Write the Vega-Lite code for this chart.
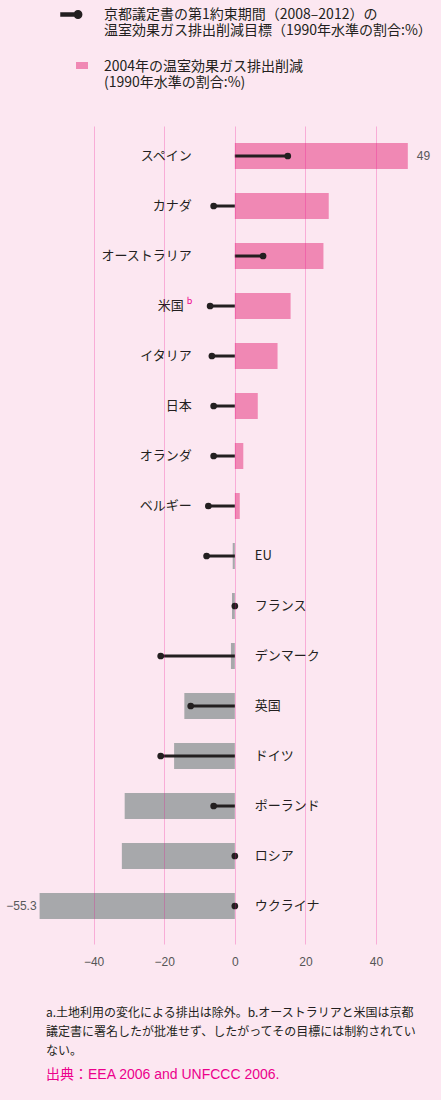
{
  "$schema": "https://vega.github.io/schema/vega-lite/v6.json",
  "width": 406,
  "height": 818,
  "autosize": {"type": "none"},
  "padding": {"left": 23, "top": 126, "right": 12, "bottom": 156},
  "background": "#fce7f1",
  "config": {"font": "Noto Sans CJK JP", "view": {"stroke": null}},
  "data": {
    "values": [
      {"country": "スペイン", "e2004": 49, "target": 15, "label": "49"},
      {"country": "カナダ", "e2004": 26.6, "target": -6},
      {"country": "オーストラリア", "e2004": 25.1, "target": 8},
      {"country": "米国", "e2004": 15.8, "target": -7, "note": "b"},
      {"country": "イタリア", "e2004": 12.1, "target": -6.5},
      {"country": "日本", "e2004": 6.5, "target": -6},
      {"country": "オランダ", "e2004": 2.4, "target": -6},
      {"country": "ベルギー", "e2004": 1.4, "target": -7.5},
      {"country": "EU", "e2004": -0.6, "target": -8},
      {"country": "フランス", "e2004": -0.8, "target": 0},
      {"country": "デンマーク", "e2004": -1.1, "target": -21},
      {"country": "英国", "e2004": -14.3, "target": -12.5},
      {"country": "ドイツ", "e2004": -17.2, "target": -21},
      {"country": "ポーランド", "e2004": -31.2, "target": -6},
      {"country": "ロシア", "e2004": -32, "target": 0},
      {"country": "ウクライナ", "e2004": -55.3, "target": 0, "label": "−55.3"}
    ]
  },
  "title": {
    "text": [
      "a.土地利用の変化による排出は除外。b.オーストラリアと米国は京都",
      "議定書に署名したが批准せず、したがってその目標には制約されてい",
      "ない。"
    ],
    "subtitle": "出典：EEA 2006 and UNFCCC 2006.",
    "orient": "bottom",
    "anchor": "start",
    "frame": "group",
    "dx": 23,
    "offset": 41,
    "fontSize": 12,
    "fontWeight": "normal",
    "color": "#231f20",
    "lineHeight": 19,
    "subtitleColor": "#ec008c",
    "subtitleFont": "Liberation Sans, Noto Sans CJK JP",
    "subtitleFontSize": 14,
    "subtitlePadding": 10
  },
  "encoding": {
    "y": {
      "field": "country",
      "type": "nominal",
      "sort": null,
      "axis": null,
      "scale": {"paddingInner": 0.48, "paddingOuter": 0.42, "align": 0.405}
    }
  },
  "layer": [
    {
      "mark": {"type": "bar"},
      "encoding": {
        "x": {
          "field": "e2004",
          "type": "quantitative",
          "scale": {"domain": [-60, 55], "nice": false},
          "axis": {
            "title": null,
            "values": [-40, -20, 0, 20, 40],
            "grid": true,
            "gridColor": "#ec008c",
            "gridOpacity": 0.25,
            "domain": false,
            "ticks": false,
            "labelPadding": 12,
            "labelFontSize": 12,
            "labelFont": "Liberation Sans",
            "labelColor": "#555555",
            "zindex": 1
          }
        },
        "color": {"condition": {"test": "datum.e2004 < 0", "value": "#a7a8ab"}, "value": "#f088b4"},
        "strokeDash": {
          "datum": "2004年",
          "type": "nominal",
          "scale": {"range": [[1, 0]]},
          "legend": {
            "orient": "none",
            "legendX": 37,
            "legendY": -74,
            "title": null,
            "padding": 0,
            "symbolType": "M0.111,-0.334H1V0.186H0.111Z",
            "symbolSize": 729,
            "labelExpr": "['2004年の温室効果ガス排出削減', '(1990年水準の割合:%)']",
            "labelFontSize": 14,
            "labelLimit": 400,
            "labelOffset": 15,
            "labelColor": "#231f20",
            "labelBaseline": "middle"
          }
        }
      }
    },
    {
      "mark": {"type": "square", "color": "#a7a8ab", "filled": true, "opacity": 0},
      "encoding": {
        "x": {"field": "e2004", "type": "quantitative"},
        "shape": {
          "datum": "2004年減",
          "type": "nominal",
          "scale": {"range": ["M-1,-0.334H-0.111V0.186H-1Z"]},
          "legend": {
            "orient": "none",
            "legendX": 37,
            "legendY": -74,
            "title": null,
            "padding": 0,
            "symbolSize": 729,
            "symbolOpacity": 1,
            "symbolStrokeWidth": 0,
            "symbolFillColor": "#a7a8ab",
            "labelExpr": "''",
            "labelOffset": 0
          }
        }
      }
    },
    {
      "mark": {"type": "rule", "strokeWidth": 3},
      "encoding": {
        "x": {"field": "target", "type": "quantitative"},
        "x2": {"datum": 0},
        "color": {
          "datum": "京都",
          "type": "nominal",
          "scale": {"range": ["#231f20"]},
          "legend": {
            "orient": "none",
            "legendX": 37,
            "legendY": -123,
            "title": null,
            "padding": 0,
            "symbolType": "M-1,-0.143H0.62V0.143H-1Z M0.27,0A0.35,0.35 0 1,1 0.97,0A0.35,0.35 0 1,1 0.27,0Z",
            "symbolSize": 441,
            "symbolFillColor": "#231f20",
            "labelExpr": "['京都議定書の第1約束期間（2008–2012）の', '温室効果ガス排出削減目標（1990年水準の割合:%）']",
            "labelFontSize": 14,
            "labelLimit": 400,
            "labelOffset": 21,
            "labelColor": "#231f20",
            "labelBaseline": "middle"
          }
        }
      }
    },
    {
      "mark": {"type": "circle", "size": 45, "opacity": 1},
      "encoding": {
        "x": {"field": "target", "type": "quantitative"},
        "color": {"datum": "京都", "type": "nominal"}
      }
    },
    {
      "transform": [{"filter": "datum.e2004 > 0 && !datum.note"}],
      "mark": {"type": "text", "align": "right", "dx": -43, "fontSize": 13, "color": "#231f20"},
      "encoding": {"x": {"datum": 0, "type": "quantitative"}, "text": {"field": "country"}}
    },
    {
      "transform": [{"filter": "datum.note"}],
      "mark": {"type": "text", "align": "right", "dx": -51, "fontSize": 13, "color": "#231f20"},
      "encoding": {"x": {"datum": 0, "type": "quantitative"}, "text": {"field": "country"}}
    },
    {
      "transform": [{"filter": "datum.note"}],
      "mark": {"type": "text", "align": "left", "dx": -48, "dy": -5, "fontSize": 9, "color": "#ec008c"},
      "encoding": {"x": {"datum": 0, "type": "quantitative"}, "text": {"field": "note"}}
    },
    {
      "transform": [{"filter": "datum.e2004 <= 0"}],
      "mark": {"type": "text", "align": "left", "dx": 20, "fontSize": 13, "color": "#231f20"},
      "encoding": {"x": {"datum": 0, "type": "quantitative"}, "text": {"field": "country"}}
    },
    {
      "transform": [{"filter": "datum.label && datum.e2004 > 0"}],
      "mark": {"type": "text", "align": "left", "dx": 9, "fontSize": 12, "font": "Liberation Sans", "color": "#58595b"},
      "encoding": {"x": {"field": "e2004", "type": "quantitative"}, "text": {"field": "label"}}
    },
    {
      "transform": [{"filter": "datum.label && datum.e2004 < 0"}],
      "mark": {"type": "text", "align": "right", "dx": -3, "fontSize": 12, "font": "Liberation Sans", "color": "#58595b"},
      "encoding": {"x": {"field": "e2004", "type": "quantitative"}, "text": {"field": "label"}}
    }
  ]
}
